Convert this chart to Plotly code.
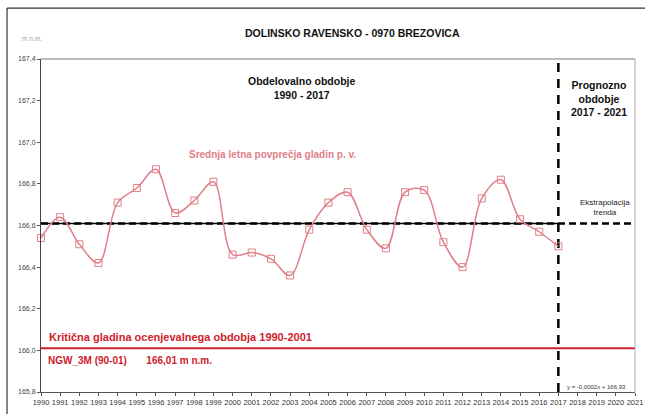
import plotly.graph_objects as go

years = list(range(1990, 2018))
levels = [166.54, 166.64, 166.51, 166.42, 166.71, 166.78, 166.87, 166.66, 166.72, 166.81,
          166.46, 166.47, 166.44, 166.36, 166.58, 166.71, 166.76, 166.58, 166.49, 166.76,
          166.77, 166.52, 166.40, 166.73, 166.82, 166.63, 166.57, 166.50]
trend_level = 166.61
critical_level = 166.01
observed_period = [1990, 2017]
forecast_period = [2017, 2021]
y_range = [165.8, 167.4]
y_ticks = [165.8, 166.0, 166.2, 166.4, 166.6, 166.8, 167.0, 167.2, 167.4]
x_ticks = list(range(1990, 2022))

PINK = "#e07f88"
RED = "#d0202b"
FONT = "Liberation Sans, Arial, sans-serif"

fig = go.Figure()

# critical level
fig.add_trace(go.Scatter(x=[observed_period[0], forecast_period[1]], y=[critical_level] * 2,
                         mode="lines", line=dict(color=RED, width=2), hoverinfo="skip",
                         showlegend=False, cliponaxis=False))
# trend solid over observed period
fig.add_trace(go.Scatter(x=observed_period, y=[trend_level] * 2, mode="lines",
                         line=dict(color="black", width=1.5), showlegend=False, hoverinfo="skip"))
# trend dashed extrapolation
fig.add_trace(go.Scatter(x=[observed_period[0], forecast_period[1]], y=[trend_level] * 2,
                         mode="lines", line=dict(color="black", width=2.5, dash="7px,4px"),
                         showlegend=False, hoverinfo="skip", cliponaxis=False))
# vertical boundary
fig.add_trace(go.Scatter(x=[forecast_period[0]] * 2, y=y_range, mode="lines",
                         line=dict(color="black", width=2.5, dash="9px,7px"),
                         showlegend=False, hoverinfo="skip", cliponaxis=False))
# mean annual levels
fig.add_trace(go.Scatter(x=years, y=levels, mode="lines+markers",
                         line=dict(color=PINK, width=1.5, shape="spline", smoothing=1.0),
                         marker=dict(symbol="square-open", size=7, color=PINK,
                                     line=dict(width=1, color=PINK)),
                         showlegend=False, cliponaxis=False))

ann = []
def add(text, x, y, size, color="#111111", bold=True, xanchor="center", xref="x", yref="y", align="center"):
    ann.append(dict(text=f"<b>{text}</b>" if bold else text, x=x, y=y, xref=xref, yref=yref,
                    showarrow=False, font=dict(size=size, color=color, family=FONT),
                    xanchor=xanchor, yanchor="middle", align=align))

add("DOLINSKO RAVENSKO - 0970 BREZOVICA", 0.5236, 1.078, 10.5, xref="paper", yref="paper")
add("m n.m.", -0.015, 1.063, 6.5, color="#a0a0a0", bold=False, xref="paper", yref="paper")
add("Obdelovalno obdobje<br>1990 - 2017", 2003.6, 167.26, 10.5)
add("Prognozno<br>obdobje<br>2017 - 2021", 2019.1, 167.21, 10.5)
add("Srednja letna povprečja gladin p. v.", 2002.1, 166.94, 10, color=PINK)
add("Ekstrapolacija<br>trenda", 2019.45, 166.685, 8, bold=False, color="#222222")
add("Kritična gladina ocenjevalnega obdobja 1990-2001", 1990.3, 166.063, 11, color=RED, xanchor="left")
add("NGW_3M (90-01)&nbsp;&nbsp;&nbsp;&nbsp;&nbsp;&nbsp;&nbsp;166,01 m n.m.", 1990.25, 165.95, 10, color=RED, xanchor="left")
add("y = -0,0002x + 166,93", 2017.35, 165.825, 6, bold=False, color="#333333", xanchor="left")

fig.update_layout(
    width=645, height=414,
    margin=dict(l=41, r=10, t=59, b=22),
    paper_bgcolor="white", plot_bgcolor="white",
    separators=",.",
    annotations=ann,
    font=dict(family=FONT, size=7, color="#333333"),
    shapes=[
        dict(type="line", xref="paper", yref="paper", x0=-0.0572, x1=-0.0572, y0=-0.2, y1=1.153,
             line=dict(color="#333333", width=1.2)),
        dict(type="line", xref="paper", yref="paper", x0=-0.0572, x1=1.1, y0=1.153, y1=1.153,
             line=dict(color="#333333", width=1.2)),
        dict(type="line", xref="paper", yref="paper", x0=0, x1=1, y0=1, y1=1,
             line=dict(color="#777777", width=1)),
        dict(type="line", xref="paper", yref="paper", x0=1, x1=1, y0=0, y1=1,
             line=dict(color="#aaaaaa", width=1)),
    ],
)
fig.update_xaxes(range=[1990, 2021], tickmode="array", tickvals=x_ticks,
                 ticktext=[str(t) for t in x_ticks], ticks="outside", ticklen=3,
                 tickcolor="#555555", showgrid=False, zeroline=False, showline=True,
                 linecolor="#555555", linewidth=1, automargin=False,
                 tickfont=dict(size=7.5, color="#333333"))
fig.update_yaxes(range=y_range, tickmode="array", tickvals=y_ticks,
                 ticktext=[f"{v:.1f}".replace(".", ",") for v in y_ticks], ticks="outside",
                 ticklen=3, tickcolor="#555555", showgrid=False, zeroline=False, showline=True,
                 linecolor="#444444", linewidth=1, automargin=False,
                 tickfont=dict(size=7, color="#444444"))

fig.write_html("out.html", config={"displayModeBar": False},
               post_script="document.body.style.margin='0';document.body.style.overflow='hidden';")
